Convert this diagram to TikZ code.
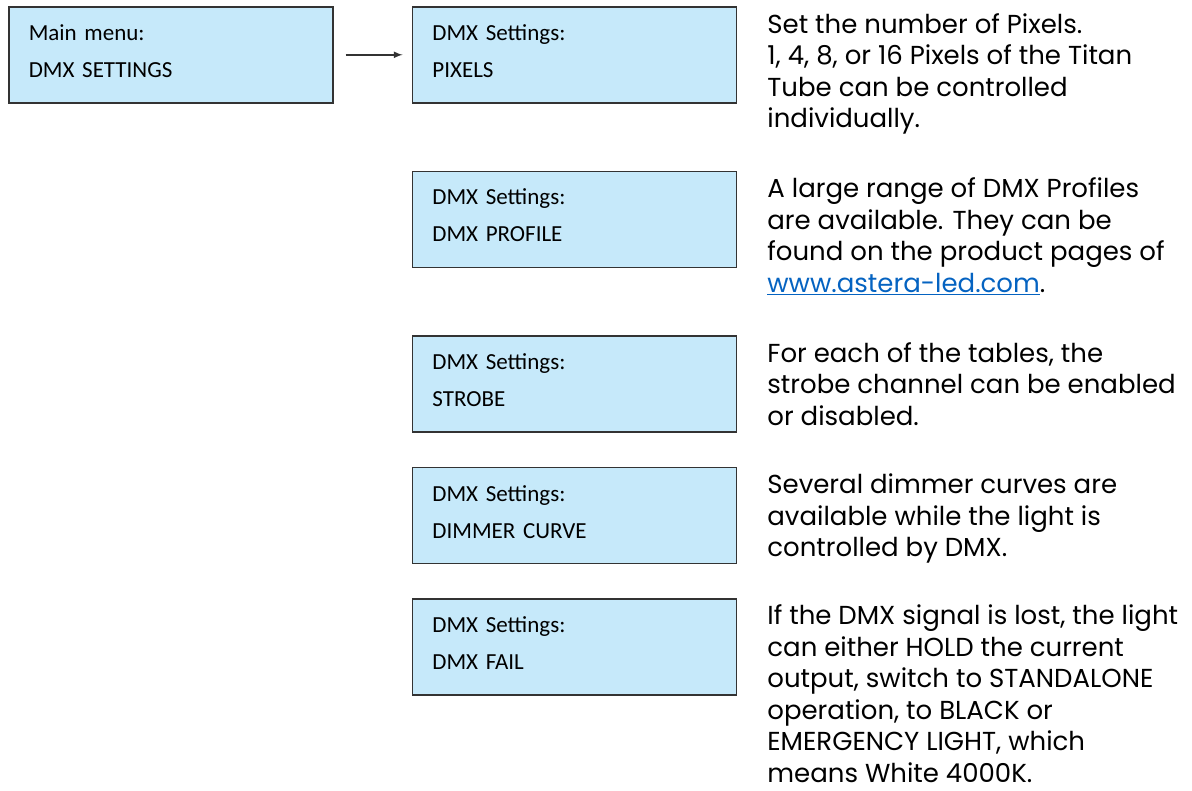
\documentclass[tikz,border=0pt]{standalone}
\usepackage{fontspec}
\setmainfont{Poppins}
\newfontfamily\boxfont{Carlito}
\usetikzlibrary{positioning}
\definecolor{menu_blue}{RGB}{198,233,250}
\colorlet{menu_line}{black!80}
\definecolor{link_blue}{RGB}{5,99,193}

\begin{document}
\begin{tikzpicture}[
                        x=1pt, y=-1pt,
                        menu/.style={draw=menu_line, fill=menu_blue, line width=1.6pt, minimum height=96pt, text width=284pt, inner xsep=20pt, align=left, font=\boxfont\fontsize{23}{37}\selectfont, execute at end node={\rule[-8pt]{0pt}{8pt}}},
                        info/.style={align=left, inner sep=0pt, font=\fontsize{26}{31.6}\selectfont},
                        node distance=67pt and 78pt,
                        >=latex,
                    ]
                        \useasboundingbox (0,0) rectangle (1192,791);

                        % menu boxes
                        \node[menu, anchor=north west] (main_menu) at (8,6) {Main menu:\\DMX SETTINGS};
                        \node[menu] (pixels) [right=of main_menu] {DMX Settings:\\PIXELS};
                        \node[menu] (profile) [below=of pixels] {DMX Settings:\\DMX PROFILE};
                        \node[menu] (strobe) [below=of profile] {DMX Settings:\\STROBE};
                        \node[menu] (dimmer) [below=34pt of strobe] {DMX Settings:\\DIMMER CURVE};
                        \node[menu] (dmx_fail) [below=34pt of dimmer] {DMX Settings:\\DMX FAIL};

                        % descriptions
                        \node[info, below right=7pt and 30pt of pixels.north east] (pixels_info) {Set the number of Pixels.\\1, 4, 8, or 16 Pixels of the Titan\\Tube can be controlled\\individually.};
                        \node[info, below right=7pt and 30pt of profile.north east] (profile_info) {A large range of DMX Profiles\\are available. They can be\\found on the product pages of\\{\color{link_blue}\underline{www.astera-led.com}}.};
                        \node[info, below right=7pt and 30pt of strobe.north east] (strobe_info) {For each of the tables, the\\strobe channel can be enabled\\or disabled.};
                        \node[info, below right=7pt and 30pt of dimmer.north east] (dimmer_info) {Several dimmer curves are\\available while the light is\\controlled by DMX.};
                        \node[info, below right=6pt and 30pt of dmx_fail.north east] (dmx_fail_info) {If the DMX signal is lost, the light\\can either HOLD the current\\output, switch to STANDALONE\\operation, to BLACK or\\EMERGENCY LIGHT, which\\means White 4000K.};

                        % connection
                        \draw[->, line width=2pt, draw=black!80, shorten <=12pt, shorten >=9pt] (main_menu) -- (pixels);
                    \end{tikzpicture}
\end{document}
